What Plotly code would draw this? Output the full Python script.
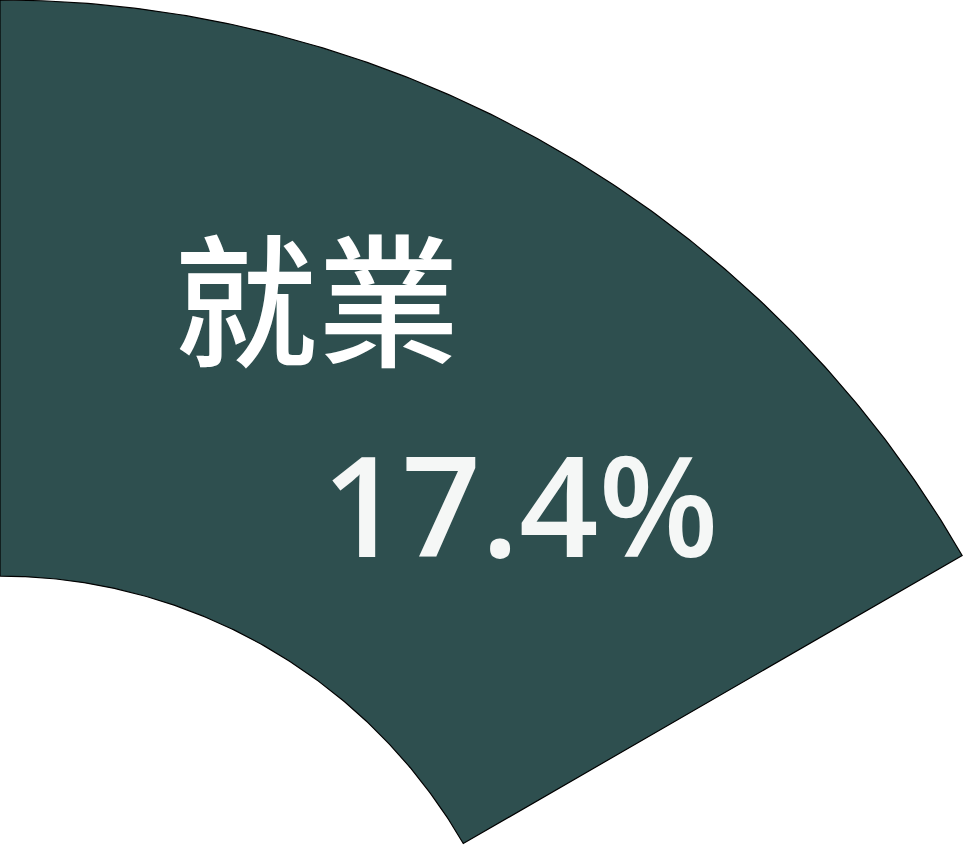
import numpy as np
import plotly.graph_objects as go

# Data
category = "就業"
share_label = "17.4%"
sector_start_deg = 0.0     # clockwise from 12 o'clock
sector_span_deg = 60.0     # one of six equal sectors
outer_radius = 1.0
inner_radius = 0.4815

fill_color = "#2e4f4f"

# Build wedge outline (polar -> cartesian, clockwise from 12 o'clock)
theta_out = np.radians(np.linspace(sector_start_deg, sector_start_deg + sector_span_deg, 200))
theta_in = theta_out[::-1]
xs = np.concatenate([outer_radius * np.sin(theta_out), inner_radius * np.sin(theta_in)])
ys = np.concatenate([outer_radius * np.cos(theta_out), inner_radius * np.cos(theta_in)])
xs = np.append(xs, xs[0])
ys = np.append(ys, ys[0])

fig = go.Figure()
fig.add_trace(go.Scatter(
    x=xs, y=ys, mode="lines", fill="toself",
    fillcolor=fill_color, line=dict(color="black", width=1.2),
    hoverinfo="skip", showlegend=False,
))

W, H = 965, 846
scale = 1111.0  # pixels per unit radius
fig.update_layout(
    width=W, height=H,
    margin=dict(l=0, r=0, t=0, b=0),
    paper_bgcolor="white", plot_bgcolor="white",
    xaxis=dict(range=[0, W / scale], visible=False, fixedrange=True),
    yaxis=dict(range=[1.0 - H / scale, 1.0], visible=False, fixedrange=True),
    showlegend=False,
)

fig.add_annotation(
    x=317 / W, y=1 - 293 / H, xref="paper", yref="paper",
    text=category, showarrow=False,
    font=dict(family="Noto Sans CJK TC", size=143, color="white", weight=500),
    xanchor="center", yanchor="middle",
)
fig.add_annotation(
    x=520 / W, y=1 - 503 / H, xref="paper", yref="paper",
    text=share_label, showarrow=False,
    font=dict(family="Open Sans", size=139, color="#f5f7f6", weight=600),
    xanchor="center", yanchor="middle",
)

fig.write_html("out.html")
